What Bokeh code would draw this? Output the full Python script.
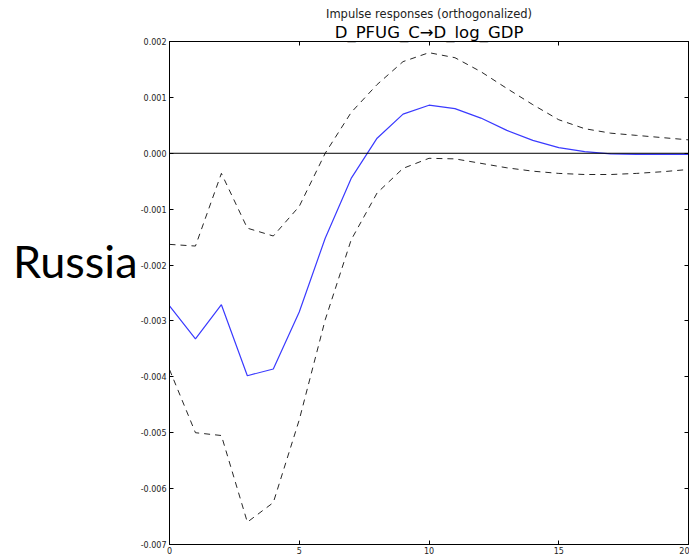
from bokeh.plotting import figure
from bokeh.models import Range1d, LinearAxis, Title, PrintfTickFormatter, FixedTicker, Span
from bokeh.embed import file_html
from bokeh.resources import INLINE

# data
steps = list(range(21))
irf = [-0.00273, -0.00332, -0.00271, -0.00398, -0.00386, -0.00284, -0.00152, -0.00045,
       0.00027, 0.00070, 0.00086, 0.00080, 0.00063, 0.00041, 0.00023, 0.00010,
       0.00003, -0.00001, -0.00002, -0.00002, -0.00002]
upper = [-0.00163, -0.00166, -0.00036, -0.00134, -0.00148, -0.00095, 0.00000, 0.00073,
         0.00123, 0.00164, 0.00180, 0.00171, 0.00146, 0.00116, 0.00087, 0.00060,
         0.00044, 0.00036, 0.00032, 0.00028, 0.00024]
lower = [-0.00387, -0.00500, -0.00505, -0.00660, -0.00625, -0.00477, -0.00298, -0.00155,
         -0.00071, -0.00027, -0.00009, -0.00010, -0.00018, -0.00026, -0.00032, -0.00036,
         -0.00038, -0.00038, -0.00036, -0.00033, -0.00029]
x_ticks = [0, 5, 10, 15, 20]
y_ticks = [-0.007, -0.006, -0.005, -0.004, -0.003, -0.002, -0.001, 0.0, 0.001, 0.002]
title_main = "Impulse responses (orthogonalized)"
title_sub = "D_PFUG_C\u2192D_log_GDP"
side_label = "Russia"

FONT = "DejaVu Sans"

p = figure(width=689, height=556, output_backend="svg", toolbar_location=None,
           x_range=Range1d(0, 20), y_range=Range1d(-0.007, 0.002),
           min_border_left=169, min_border_right=1, min_border_top=41, min_border_bottom=11,
           x_axis_type=None, y_axis_type=None, title=None)
p.background_fill_color = "white"
p.border_fill_color = "white"
p.outline_line_color = "black"
p.outline_line_width = 1
p.xgrid.visible = False
p.ygrid.visible = False


def style_axis(ax, show_labels=True):
    ax.major_tick_in = 4
    ax.major_tick_out = 0
    ax.minor_tick_line_color = None
    ax.axis_line_color = "black"
    ax.major_tick_line_color = "black"
    ax.major_label_text_font = FONT
    ax.major_label_text_font_size = "8px"
    ax.major_label_text_color = "#222222"
    if not show_labels:
        ax.major_label_text_font_size = "0px"
        ax.major_label_text_alpha = 0


xb = LinearAxis(ticker=FixedTicker(ticks=x_ticks))
style_axis(xb)
xb.major_label_standoff = 2
p.add_layout(xb, "below")

xt = LinearAxis(ticker=FixedTicker(ticks=x_ticks))
style_axis(xt, False)
xt.major_label_standoff = 0
p.add_layout(xt, "above")

yl = LinearAxis(ticker=FixedTicker(ticks=y_ticks), formatter=PrintfTickFormatter(format="%.3f"))
style_axis(yl)
yl.major_label_standoff = 3
p.add_layout(yl, "left")

yr = LinearAxis(ticker=FixedTicker(ticks=y_ticks))
style_axis(yr, False)
yr.major_label_standoff = 0
p.add_layout(yr, "right")

# side label: a bare axis carrying only a horizontal axis label
# (an empty second line lifts the word above the frame's middle, as in the reference)
side = LinearAxis(ticker=FixedTicker(ticks=[]),
                  axis_label=side_label + "\n", axis_label_orientation="horizontal",
                  axis_label_text_font="Lato", axis_label_text_font_size="45px",
                  axis_label_text_font_style="normal", axis_label_text_color="black",
                  axis_label_standoff=0, axis_line_color=None,
                  major_tick_line_color=None, minor_tick_line_color=None,
                  major_label_text_font_size="0px", major_label_standoff=0,
                  major_tick_in=0, major_tick_out=0, minor_tick_in=0, minor_tick_out=0)
p.add_layout(side, "left")

p.add_layout(Span(location=0, dimension="width", line_color="black", line_width=1))

p.line(steps, upper, line_color="black", line_alpha=0.85, line_width=1, line_dash="6 5")
p.line(steps, lower, line_color="black", line_alpha=0.85, line_width=1, line_dash="6 5")
p.line(steps, irf, line_color="#3a3aff", line_width=1.2)

t2 = Title(text=title_sub, align="center", text_font=FONT, text_font_size="16.5px",
           text_font_style="normal", text_color="black", standoff=0)
p.add_layout(t2, "above")
t1 = Title(text=title_main, align="center", text_font=FONT, text_font_size="11.5px",
           text_font_style="normal", text_color="#222222", standoff=0)
p.add_layout(t1, "above")

open("out.html", "w").write(file_html(p, INLINE))
